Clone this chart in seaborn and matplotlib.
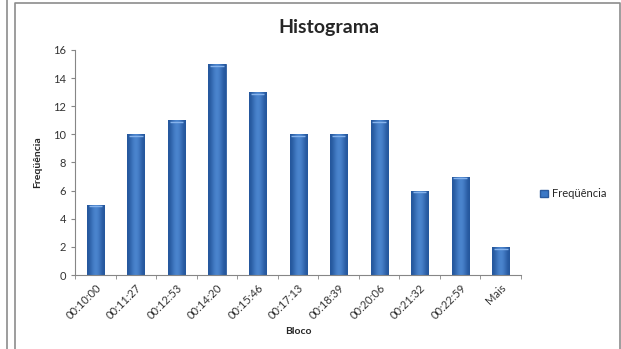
import numpy as np
import pandas as pd
import matplotlib
matplotlib.use("Agg")
import matplotlib.pyplot as plt
import seaborn as sns
from matplotlib.lines import Line2D
from matplotlib.patches import Patch

# Dados do histograma
blocos = ["00:10:00", "00:11:27", "00:12:53", "00:14:20", "00:15:46", "00:17:13",
          "00:18:39", "00:20:06", "00:21:32", "00:22:59", "Mais"]
frequencias = [5, 10, 11, 15, 13, 10, 10, 11, 6, 7, 2]

df = pd.DataFrame({"Bloco": blocos, "Freqüência": frequencias})

sns.set_style("white")
plt.rcParams["font.family"] = ["Lato", "DejaVu Sans"]

fig = plt.figure(figsize=(6.21, 3.49), dpi=100)
ax = fig.add_axes([0.121, 0.212, 0.718, 0.645])

sns.barplot(data=df, x="Bloco", y="Freqüência", color="#3b78c6", width=0.42,
            edgecolor="#2a5a9e", linewidth=0.6, ax=ax)

# gradiente horizontal nas barras (estilo Excel)
grad = np.array([[0.0, 0.5, 0.8, 0.5, 0.0]])
cmap = matplotlib.colors.LinearSegmentedColormap.from_list("b", ["#24569c", "#5a97e2"])
for p in ax.patches:
    x0, y0 = p.get_x(), p.get_y()
    w, h = p.get_width(), p.get_height()
    im = ax.imshow(grad, extent=[x0, x0 + w, y0, y0 + h], aspect="auto",
                   cmap=cmap, vmin=0, vmax=1, zorder=p.get_zorder() + 0.1,
                   interpolation="bicubic")
    im.set_clip_path(p)
    # faixa clara no topo
    ax.plot([x0 + w * 0.1, x0 + w * 0.9], [y0 + h - 0.12, y0 + h - 0.12],
            color="#86b3ec", lw=1.0, zorder=p.get_zorder() + 0.2, solid_capstyle="butt")

ax.set_xlim(-0.5, len(blocos) - 0.5)
ax.set_ylim(0, 16)
ax.set_yticks(range(0, 17, 2))
ax.tick_params(axis="y", labelsize=8, length=3, color="#868686", labelcolor="#333333", left=True)
ax.tick_params(axis="x", which="major", labelsize=8, length=0, labelcolor="#333333", pad=5)
ax.set_xticks(np.arange(-0.5, len(blocos)), minor=True)
ax.tick_params(axis="x", which="minor", length=3, color="#868686", bottom=True)
plt.setp(ax.get_xticklabels(), rotation=45, ha="right", rotation_mode="anchor")

for s in ["top", "right"]:
    ax.spines[s].set_visible(False)
for s in ["left", "bottom"]:
    ax.spines[s].set_color("#868686")
    ax.spines[s].set_linewidth(0.8)

ax.set_xlabel("Bloco", fontsize=7.5, fontweight="bold", labelpad=4)
ax.set_ylabel("Freqüência", fontsize=7.5, fontweight="bold", labelpad=8)
fig.text(0.53, 0.922, "Histograma", fontsize=14, fontweight="bold", ha="center", va="center")

ax.legend(handles=[Patch(facecolor="#3b78c6", edgecolor="#2a5a9e", label="Freqüência")],
          loc="center left", bbox_to_anchor=(1.02, 0.36), frameon=False, fontsize=8,
          handlelength=0.7, handleheight=0.7, handletextpad=0.4)

# molduras cinzentas
fig.add_artist(Line2D([7 / 621, 7 / 621], [0, 1], color="#8c8c8c", lw=1.2))
fig.add_artist(Line2D([15 / 621, 15 / 621, 619.5 / 621, 619.5 / 621],
                      [0, 1 - 3 / 349, 1 - 3 / 349, 0], color="#8c8c8c", lw=1.2))

fig.savefig("out.png", dpi=100)
